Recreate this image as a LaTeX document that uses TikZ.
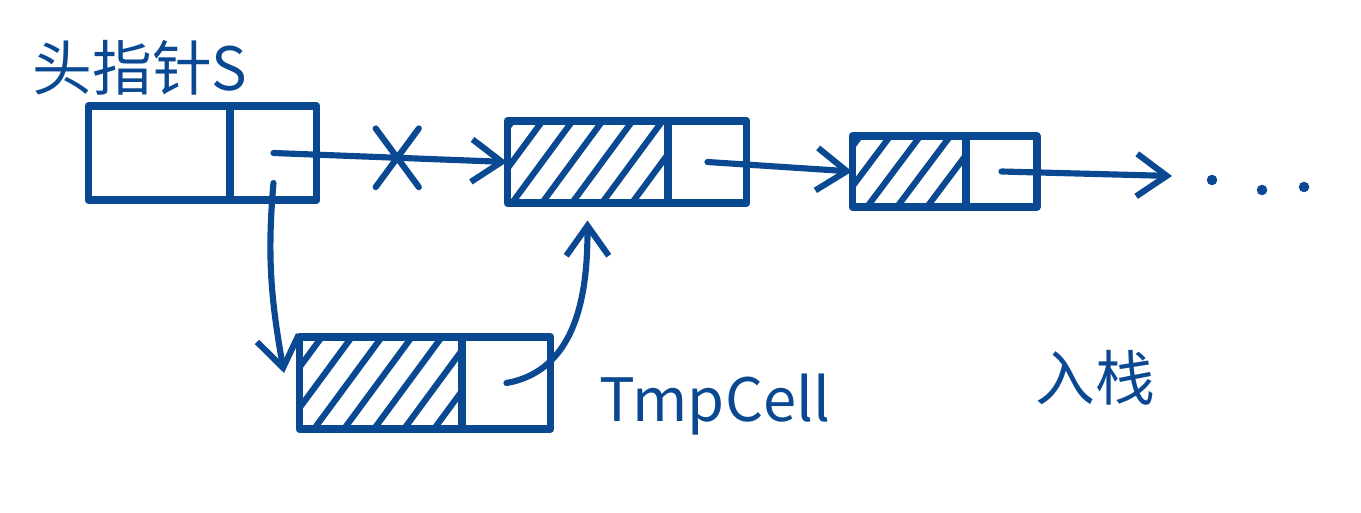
\documentclass[tikz,border=0pt]{standalone}
\usepackage{fontspec}
\newfontfamily\cjk{Noto Sans CJK SC}
\usetikzlibrary{arrows.meta, positioning, shapes.misc}
\definecolor{ink}{RGB}{10,73,145}
\tikzstyle{cell} = [draw=ink, line width=4pt, rectangle, inner sep=0pt, outer sep=0pt, line join=round]
\tikzstyle{ptr} = [draw=ink, line width=3.5pt, line cap=round,
   -{Straight Barb[length=0.6cm,width=0.85cm,line width=3.5pt]}]
\tikzstyle{hatch} = [draw=ink, line width=3.5pt, line cap=round]
\tikzstyle{crossx} = [cross out, draw=ink, line width=3.5pt, minimum width=0.74cm, minimum height=1.05cm]
\tikzstyle{handtext} = [text=ink, font=\cjk\fontsize{34}{40}\selectfont]

\begin{document}
\begin{tikzpicture}[x=0.02cm, y=-0.02cm]
 \useasboundingbox (0,0) rectangle (1361,513);
 % head pointer
 \node[cell, minimum width=2.84cm, minimum height=1.88cm] (h1) at (159,153) {};
 \node[cell, minimum width=1.74cm, minimum height=1.88cm, right=0pt of h1] (h2) {};
 % first cell
 \node[cell, minimum width=3.22cm, minimum height=1.64cm] (b1) at (587.5,162) {};
 \node[cell, minimum width=1.58cm, minimum height=1.64cm, right=0pt of b1] (b2) {};
 % second cell
 \node[cell, minimum width=2.28cm, minimum height=1.42cm] (c1) at (909,171.5) {};
 \node[cell, minimum width=1.42cm, minimum height=1.42cm, right=0pt of c1] (c2) {};
 % new cell
 \node[cell, minimum width=3.26cm, minimum height=1.84cm] (t1) at (380.5,383) {};
 \node[cell, minimum width=1.78cm, minimum height=1.84cm, right=0pt of t1] (t2) {};

 % hatching of the data fields
 \begin{scope}
  \clip (b1.south west) rectangle (b1.north east);
  \foreach \d in {-1.1,-0.5,...,2.9}
   \draw[hatch] ([xshift=\d cm]b1.south west) -- ++(1.4cm,1.9cm);
 \end{scope}
 \begin{scope}
  \clip (c1.south west) rectangle (c1.north east);
  \foreach \d in {-0.9,-0.3,...,2.0}
   \draw[hatch] ([xshift=\d cm]c1.south west) -- ++(1.2cm,1.6cm);
 \end{scope}
 \begin{scope}
  \clip (t1.south west) rectangle (t1.north east);
  \foreach \d in {-0.9,-0.3,...,2.9}
   \draw[hatch] ([xshift=\d cm]t1.south west) -- ++(1.4cm,1.9cm);
 \end{scope}

 % labels
 \node[handtext] (head) at (140,68) {头指针S};
 \node[handtext] (tmp) at (715,405) {TmpCell};
 \node[handtext] (push) at (1095,378) {入栈};

 % pointers
 \coordinate (more) at (1172,176);
 \draw[ptr] (h2.center) -- node[crossx, pos=0.53] (cut) {} (b1.west);
 \draw[ptr] (b2.center) -- (c1.west);
 \draw[ptr] (c2.center) -- (more);
 \draw[ptr] ([yshift=-0.6cm]h2.center) to[out=-95, in=100] ([xshift=-0.3cm,yshift=0.2cm]t1.west);
 \draw[ptr, shorten >=0.35cm] (t2.center) to[out=10, in=-90] (b1.south);

 % more cells follow
 \foreach \p in {(1212,180),(1262,190),(1304,187)}
  \fill[ink] \p circle (3pt);
\end{tikzpicture}
\end{document}
